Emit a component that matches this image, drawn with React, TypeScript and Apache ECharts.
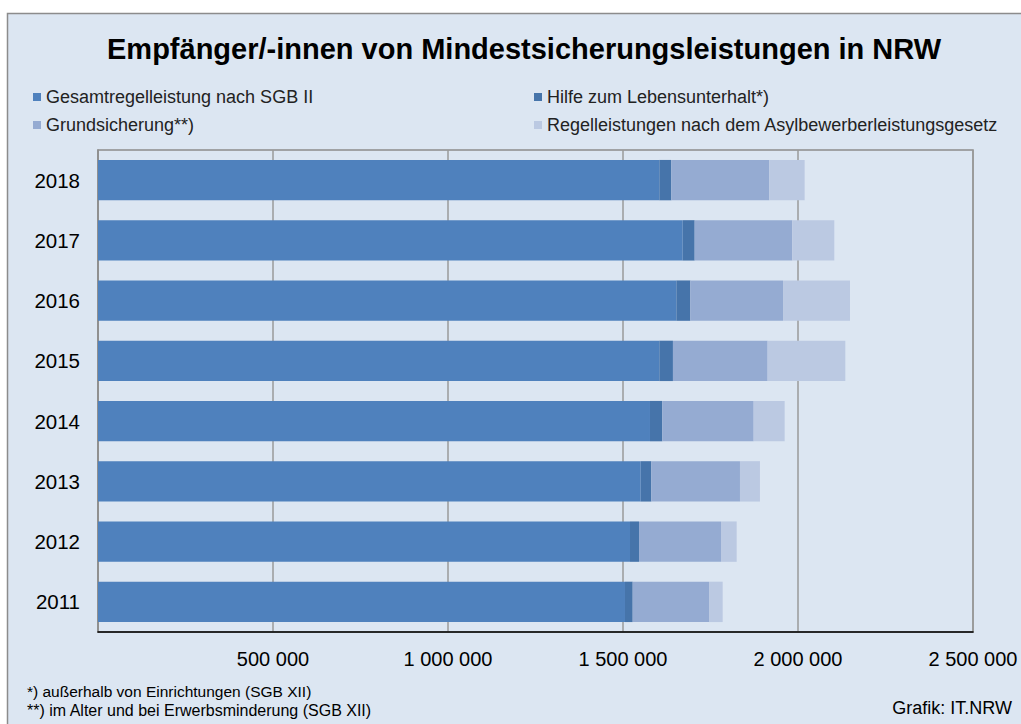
import React, { useEffect, useRef } from "react";
import * as echarts from "echarts";

const years = ["2011", "2012", "2013", "2014", "2015", "2016", "2017", "2018"];
const sgb2 = [1505700, 1520000, 1550500, 1577100, 1603700, 1652400, 1670500, 1603700];
const hilfe = [22000, 25700, 30400, 35200, 39000, 40000, 34300, 34300];
const grund = [218100, 234300, 253300, 261000, 270500, 264800, 278900, 280000];
const asyl = [39000, 44800, 57100, 88600, 222000, 191400, 120000, 101000];
const seriesNames = [
  "Gesamtregelleistung nach SGB II",
  "Hilfe zum Lebensunterhalt*)",
  "Grundsicherung**)",
  "Regelleistungen nach dem Asylbewerberleistungsgesetz",
];
const colors = ["#4f81bd", "#4674aa", "#95abd2", "#bbc9e2"];
const xTicks = [0, 500000, 1000000, 1500000, 2000000, 2500000];

const FONT = "'Liberation Sans', Arial, sans-serif";

function fmt(v: number) {
  if (v === 0) return "";
  return String(v).replace(/\B(?=(\d{3})+(?!\d))/g, " ");
}

export default function App() {
  const ref = useRef<HTMLDivElement>(null);
  useEffect(() => {
    const chart = echarts.init(ref.current!, undefined, { renderer: "svg" });
    const data = [sgb2, hilfe, grund, asyl];
    const legendPos = [
      { left: 28, top: 83 },
      { left: 529, top: 83 },
      { left: 28, top: 111 },
      { left: 529, top: 111 },
    ];
    chart.setOption({
      animation: false,
      backgroundColor: "#ffffff",
      textStyle: { fontFamily: FONT },
      graphic: [
        {
          type: "rect",
          z: -10,
          shape: { x: 7.5, y: 13.5, width: 1030, height: 730 },
          style: { fill: "#dce6f2", stroke: "#8c8c8c", lineWidth: 1.5 },
        },
        {
          type: "text",
          left: 107,
          top: 34,
          style: {
            text: "Empfänger/-innen von Mindestsicherungsleistungen in NRW",
            font: `bold 29px ${FONT}`,
            fill: "#000",
          },
        },
        {
          type: "text",
          left: 27,
          top: 683,
          style: { text: "*) außerhalb von Einrichtungen (SGB XII)", font: `15.5px ${FONT}`, fill: "#000" },
        },
        {
          type: "text",
          left: 27,
          top: 702,
          style: { text: "**) im Alter und bei Erwerbsminderung (SGB XII)", font: `16px ${FONT}`, fill: "#000" },
        },
        {
          type: "text",
          right: 9,
          top: 699,
          style: { text: "Grafik: IT.NRW", font: `18px ${FONT}`, fill: "#000" },
        },
      ],
      legend: seriesNames.map((n, i) => ({
        data: [n],
        left: legendPos[i].left,
        top: legendPos[i].top,
        icon: "rect",
        itemWidth: 8,
        itemHeight: 8,
        selectedMode: false,
        textStyle: { fontSize: 18, color: "#222", fontFamily: FONT },
      })),
      grid: {
        left: 98,
        right: 48,
        top: 150,
        bottom: 92,
        show: true,
        borderColor: "#8c8c8c",
        borderWidth: 1.5,
        backgroundColor: "transparent",
      },
      xAxis: {
        type: "value",
        min: 0,
        max: 2500000,
        interval: 500000,
        axisLine: { show: true, lineStyle: { color: "#000", width: 1.5 } },
        axisTick: { show: false },
        splitLine: { show: true, lineStyle: { color: "#9a9a9a", width: 1.5 } },
        axisLabel: {
          formatter: (v: number) => (xTicks.includes(v) ? fmt(v) : ""),
          fontSize: 20,
          color: "#000",
          margin: 17,
          fontFamily: FONT,
        },
      },
      yAxis: {
        type: "category",
        data: years,
        axisLine: { show: true, lineStyle: { color: "#8c8c8c", width: 1.5 } },
        axisTick: { show: false },
        axisLabel: { fontSize: 20.5, color: "#000", margin: 18, fontFamily: FONT },
      },
      series: data.map((d, i) => ({
        name: seriesNames[i],
        type: "bar",
        stack: "total",
        data: d,
        barCategoryGap: "33%",
        itemStyle: { color: colors[i] },
      })),
    });
    return () => chart.dispose();
  }, []);
  return (
    <div
      ref={ref}
      style={{ position: "absolute", left: 0, top: 0, width: 1021, height: 724 }}
    />
  );
}
